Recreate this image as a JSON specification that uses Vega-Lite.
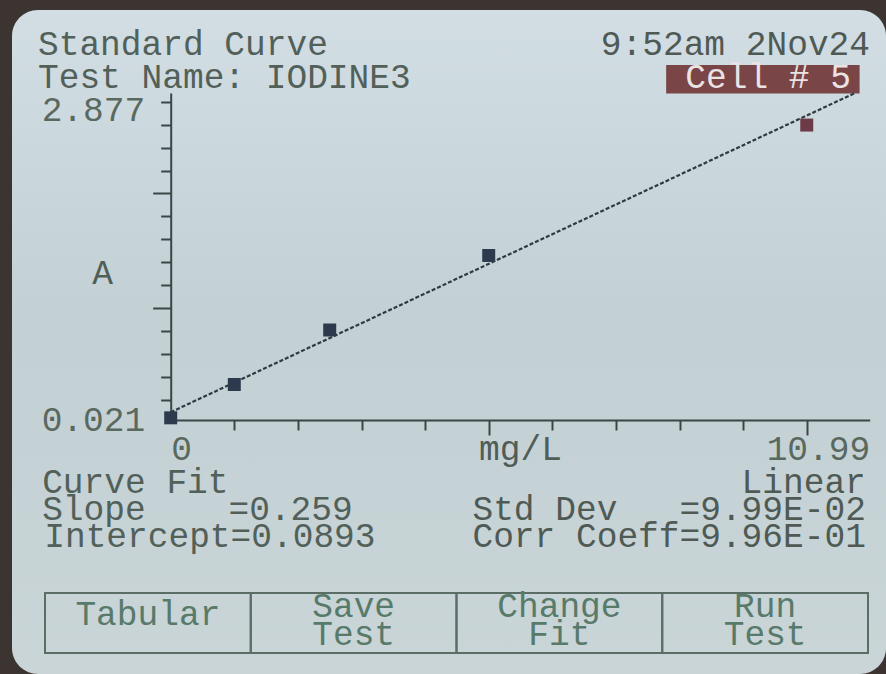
{
  "$schema": "https://vega.github.io/schema/vega-lite/v6.json",
  "autosize": {"type": "none"},
  "padding": {"left": 12, "top": 10, "right": 0, "bottom": 0},
  "width": 874,
  "height": 664,
  "background": "#3b3431",
  "config": {
    "view": {
      "stroke": null,
      "cornerRadius": 26,
      "fill": {"gradient": "linear", "x1": 0, "y1": 0, "x2": 0, "y2": 1,
        "stops": [{"offset": 0, "color": "#d2dee4"}, {"offset": 0.45, "color": "#c3d0d4"}, {"offset": 1, "color": "#c9d5d7"}]}
    },
    "text": {"font": "Liberation Mono", "fontSize": 34.5}
  },
  "datasets": {
    "pts": [
      {"cell": 1, "conc": 0, "abs": 0.04},
      {"cell": 2, "conc": 1, "abs": 0.331},
      {"cell": 3, "conc": 2.5, "abs": 0.807},
      {"cell": 4, "conc": 5, "abs": 1.458},
      {"cell": 5, "conc": 10, "abs": 2.597}
    ],
    "fit": [
      {"conc": 0, "abs": 0.0893},
      {"conc": 10.76, "abs": 2.877}
    ],
    "lines": [
      {"text": "Standard Curve", "line": 0, "col": 0, "side": "left"},
      {"text": "Test Name: IODINE3", "line": 1, "col": 0, "side": "left"},
      {"text": "9:52am 2Nov24", "line": 0, "col": 40, "side": "right"},
      {"text": "Curve Fit", "line": 16, "col": 0.2, "side": "left"},
      {"text": "Slope\u00a0\u00a0\u00a0\u00a0=0.259", "line": 17, "col": 0.2, "side": "left"},
      {"text": "Intercept=0.0893", "line": 18, "col": 0.3, "side": "left"},
      {"text": "Linear", "line": 16, "col": 39.8, "side": "right"},
      {"text": "Std\u00a0Dev\u00a0\u00a0\u00a0=9.99E-02", "line": 17, "col": 39.8, "side": "right"},
      {"text": "Corr\u00a0Coeff=9.96E-01", "line": 18, "col": 39.8, "side": "right"}
    ],
    "cellbox": [
      {"text": "Cell # 5", "col": 30.2, "col2": 39.5, "tcol": 35.1, "line": 0.3, "line2": 1.2, "tline": 1}
    ],
    "buttons": [
      {"btn": 0, "label": ["Tabular"], "line": 19, "line2": 21, "tline": 19.72},
      {"btn": 1, "label": ["Save", "Test"], "line": 19, "line2": 21, "tline": 19.47},
      {"btn": 2, "label": ["Change", "Fit"], "line": 19, "line2": 21, "tline": 19.47},
      {"btn": 3, "label": ["Run", "Test"], "line": 19, "line2": 21, "tline": 19.47}
    ]
  },
  "layer": [
    {
      "data": {"name": "cellbox"},
      "mark": {"type": "rect", "fill": "#7a4547"},
      "encoding": {
        "x": {"field": "col", "type": "quantitative", "axis": null, "scale": {"domain": [0, 40], "range": [26, 858], "nice": false, "zero": false}},
        "x2": {"field": "col2"},
        "y": {"field": "line", "type": "quantitative", "axis": null, "scale": {"domain": [0, 1, 16, 18, 19, 21], "range": [45, 78, 483, 537, 583, 643], "nice": false, "zero": false}},
        "y2": {"field": "line2"}
      }
    },
    {
      "data": {"name": "cellbox"},
      "mark": {"type": "text", "align": "center", "baseline": "alphabetic", "color": "#ebe3e3"},
      "encoding": {
        "x": {"field": "tcol", "type": "quantitative", "axis": null, "scale": {"domain": [0, 40], "range": [26, 858], "nice": false, "zero": false}},
        "y": {"field": "tline", "type": "quantitative", "axis": null, "scale": {"domain": [0, 1, 16, 18, 19, 21], "range": [45, 78, 483, 537, 583, 643], "nice": false, "zero": false}},
        "text": {"field": "text"}
      }
    },
    {
      "data": {"name": "buttons"},
      "mark": {"type": "rect", "fill": null, "stroke": "#5b6e66", "strokeWidth": 2},
      "encoding": {
        "x": {"field": "btn", "type": "ordinal", "axis": null, "scale": {"type": "band", "domain": [0, 1, 2, 3], "range": [33, 856], "paddingInner": 0, "paddingOuter": 0}},
        "y": {"field": "line", "type": "quantitative", "axis": null, "scale": {"domain": [0, 1, 16, 18, 19, 21], "range": [45, 78, 483, 537, 583, 643], "nice": false, "zero": false}},
        "y2": {"field": "line2"}
      }
    },
    {
      "data": {"name": "buttons"},
      "mark": {"type": "text", "align": "center", "baseline": "middle", "lineHeight": 28, "color": "#587a6a"},
      "encoding": {
        "x": {"field": "btn", "type": "ordinal", "bandPosition": 0.5, "axis": null, "scale": {"type": "band", "domain": [0, 1, 2, 3], "range": [33, 856], "paddingInner": 0, "paddingOuter": 0}},
        "y": {"field": "tline", "type": "quantitative", "axis": null, "scale": {"domain": [0, 1, 16, 18, 19, 21], "range": [45, 78, 483, 537, 583, 643], "nice": false, "zero": false}},
        "text": {"field": "label"}
      }
    },
    {
      "data": {"name": "lines"},
      "transform": [{"filter": "datum.side == 'left'"}],
      "mark": {"type": "text", "align": "left", "baseline": "alphabetic", "color": "#52605a"},
      "encoding": {
        "x": {"field": "col", "type": "quantitative", "axis": null, "scale": {"domain": [0, 40], "range": [26, 858], "nice": false, "zero": false}},
        "y": {"field": "line", "type": "quantitative", "axis": null, "scale": {"domain": [0, 1, 16, 18, 19, 21], "range": [45, 78, 483, 537, 583, 643], "nice": false, "zero": false}},
        "text": {"field": "text"}
      }
    },
    {
      "data": {"name": "lines"},
      "transform": [{"filter": "datum.side == 'right'"}],
      "mark": {"type": "text", "align": "right", "baseline": "alphabetic", "color": "#4f5a55"},
      "encoding": {
        "x": {"field": "col", "type": "quantitative", "axis": null, "scale": {"domain": [0, 40], "range": [26, 858], "nice": false, "zero": false}},
        "y": {"field": "line", "type": "quantitative", "axis": null, "scale": {"domain": [0, 1, 16, 18, 19, 21], "range": [45, 78, 483, 537, 583, 643], "nice": false, "zero": false}},
        "text": {"field": "text"}
      }
    },
    {
      "data": {"name": "fit"},
      "mark": {"type": "line", "color": "#2f3b40", "strokeWidth": 2.2, "strokeDash": [4, 2]},
      "encoding": {
        "x": {"field": "conc", "type": "quantitative", "axis": null, "scale": {"domain": [0, 10.99], "range": [158.7, 857.7], "nice": false, "zero": false}},
        "y": {"field": "abs", "type": "quantitative", "axis": null, "scale": {"domain": [0.021, 2.877], "range": [410, 83], "nice": false, "zero": false}}
      }
    },
    {
      "data": {"name": "pts"},
      "mark": {"type": "point", "shape": "square", "filled": true, "size": 169, "opacity": 1},
      "encoding": {
        "x": {
          "field": "conc", "type": "quantitative", "title": "mg/L",
          "scale": {"domain": [0, 10.99], "range": [158.7, 857.7], "nice": false, "zero": false},
          "axis": {
            "orient": "bottom", "offset": -254,
            "values": [0, 1, 2, 3, 4, 5, 6, 7, 8, 9, 10, 10.99],
            "labelExpr": "datum.value == 0 ? '0' : (datum.value == 10.99 ? '10.99' : '')",
            "grid": false,
            "domainColor": "#3a4747", "domainWidth": 2,
            "tickColor": "#3a4747", "tickWidth": 2,
            "tickSize": {"condition": {"test": "datum.value == 5 || datum.value == 10", "value": 15}, "value": 10},
            "tickOpacity": {"condition": {"test": "datum.value == 0 || datum.value == 10.99", "value": 0}, "value": 1},
            "labelFont": "Liberation Mono", "labelFontSize": 34.5, "labelColor": "#5a695f",
            "labelAlign": {"condition": {"test": "datum.value == 0", "value": "left"}, "value": "right"},
            "labelBaseline": "alphabetic", "labelPadding": 29,
            "labelFlush": false, "labelOverlap": false, "labelBound": false,
            "titleFont": "Liberation Mono", "titleFontSize": 34.5, "titleFontWeight": "normal", "titleColor": "#4f5c57",
            "titleX": 508, "titleY": 39, "titleAlign": "center", "titleBaseline": "alphabetic"
          }
        },
        "y": {
          "field": "abs", "type": "quantitative", "title": "A",
          "scale": {"domain": [0.021, 2.877], "range": [410, 83], "nice": false, "zero": false},
          "axis": {
            "orient": "left", "offset": -158.7,
            "values": [0.021, 0.2, 0.4, 0.6, 0.8, 1, 1.2, 1.4, 1.6, 1.8, 2, 2.2, 2.4, 2.6, 2.8, 2.877],
            "labelExpr": "datum.value == 0.021 ? '0.021' : (datum.value == 2.877 ? '2.877' : '')",
            "grid": false,
            "domainColor": "#3a4747", "domainWidth": 2,
            "tickColor": "#3a4747", "tickWidth": 2,
            "tickSize": {"condition": {"test": "datum.value == 1 || datum.value == 2", "value": 18}, "value": 10},
            "tickOpacity": {"condition": {"test": "datum.value == 0.021 || datum.value == 2.877", "value": 0}, "value": 1},
            "labelFont": "Liberation Mono", "labelFontSize": 34.5, "labelColor": "#5a695f",
            "labelBaseline": {"condition": {"test": "datum.value > 2.85", "value": "top"}, "value": "middle"},
            "labelPadding": 16,
            "labelFlush": false, "labelOverlap": false, "labelBound": false,
            "titleFont": "Liberation Mono", "titleFontSize": 34.5, "titleFontWeight": "normal", "titleColor": "#4f5e58",
            "titleAngle": 0, "titleX": -68.7, "titleY": 263, "titleAlign": "center", "titleBaseline": "middle"
          }
        },
        "color": {"condition": {"test": "datum.cell == 5", "value": "#6d3b48"}, "value": "#2d3a4e"}
      }
    }
  ],
  "resolve": {"scale": {"x": "independent", "y": "independent"}}
}
